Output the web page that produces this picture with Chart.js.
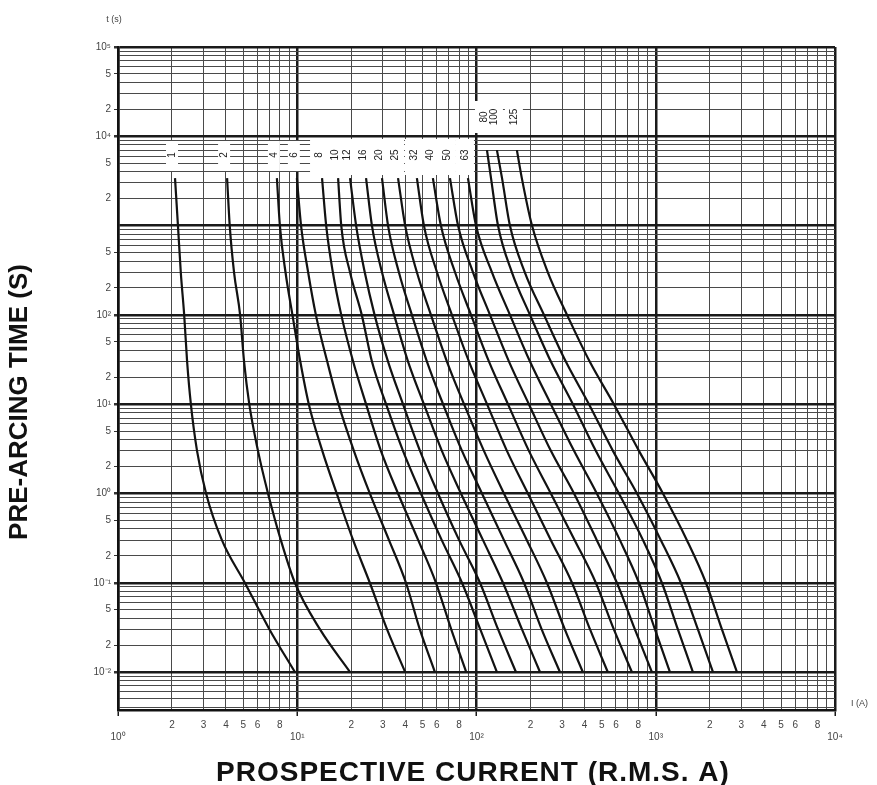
<!DOCTYPE html>
<html><head><meta charset="utf-8">
<script src="https://cdn.jsdelivr.net/npm/chart.js@4.4.1/dist/chart.umd.min.js"></script>
<style>html,body{margin:0;padding:0;background:#fff;}canvas{display:block}</style>
</head><body>
<canvas id="c" width="877" height="785"></canvas>
<script>
// ---- data ----
const ratings = ['1','2','4','6','8','10','12','16','20','25','32','40','50','63','80','100','125'];
// pre-arcing times (s) at which the currents below were read
const timesLow  = [3400, 1000, 300, 100, 30, 10, 3, 1, 0.3, 0.1, 0.03, 0.01];
const timesHigh = [7000, 3400, 1000, 300, 100, 30, 10, 3, 1, 0.3, 0.1, 0.03, 0.01];
// prospective current (A) for each fuse rating
const cur1   = [2.08, 2.16, 2.24, 2.34, 2.43, 2.55, 2.76, 3.1, 3.8, 5.1, 7.0, 9.7];
const cur2   = [4.06, 4.2, 4.44, 4.8, 5.05, 5.4, 6.04, 6.87, 8.1, 9.7, 13.4, 19.7];
const cur4   = [7.7, 8.0, 8.6, 9.4, 10.4, 11.6, 13.8, 16.6, 20.5, 25.4, 31.7, 40];
const cur6   = [9.95, 10.5, 11.5, 12.7, 14.7, 17.0, 20.7, 25.4, 32.5, 40.4, 48.3, 58.6];
const cur8   = [13.75, 14.5, 15.8, 17.6, 20.5, 24.2, 29.3, 36.5, 47.3, 59.4, 72.3, 87.6];
const cur10  = [16.9, 17.6, 19.7, 22.9, 26.1, 31.3, 38.9, 49, 64, 83, 105, 130];
const cur12  = [19.7, 21.3, 23.8, 27, 32.1, 38.9, 48.4, 61, 80, 104.6, 132, 166];
const cur16  = [24.2, 26.1, 29.7, 34.7, 41.5, 50.9, 64.1, 81.9, 108.7, 140.5, 179.4, 226];
const cur20  = [29.7, 32.1, 36.9, 43.6, 52.9, 65.1, 83, 107.3, 142.3, 184, 231, 292];
const cur25  = [36.5, 40, 46.5, 55.7, 68.4, 85.2, 110, 142.3, 191, 247, 311, 392];
const cur32  = [46.5, 50.9, 60.2, 72.9, 90.8, 114.5, 147.8, 193.6, 260, 341, 430, 540];
const cur40  = [57.1, 63.3, 75.9, 93.2, 117.4, 149.8, 196, 260, 353, 463, 584, 736];
const cur50  = [71.1, 78.9, 95.6, 118.9, 151.8, 196, 260, 350, 469, 607, 765, 952];
const cur63  = [89.6, 99.4, 122, 153.7, 198.8, 260, 350, 469, 631, 806, 990, 1200];
const cur80  = [114.4, 120.5, 131.8, 157.6, 198.8, 260, 345, 463, 623, 849, 1082, 1329, 1612];
const cur100 = [130, 138.8, 153.6, 186, 238, 315, 424, 577, 786, 1068, 1381, 1719, 2086];
const cur125 = [168, 179, 204, 250, 320, 428, 584, 806, 1097, 1492, 1905, 2340, 2838];
const currents = [cur1,cur2,cur4,cur6,cur8,cur10,cur12,cur16,cur20,cur25,cur32,cur40,cur50,cur63,cur80,cur100,cur125];

// ---- axis ticks ----
const mantissas = [1,2,3,4,5,6,7,8,9];
const xDecadeExps = [0,1,2,3,4];
const yDecadeExps = [-3,-2,-1,0,1,2,3,4,5];
const xLabelMantissas = [2,3,4,5,6,8];
const yLabelMantissas = [2,5];
const xDecadeLabels = {'0':'10⁰','1':'10¹','2':'10²','3':'10³','4':'10⁴'};
const yDecadeLabels = {'-2':'10⁻²','-1':'10⁻¹','0':'10⁰','1':'10¹','2':'10²','4':'10⁴','5':'10⁵'};
const xMin = 1, xMax = 10000, yMin = 0.003758, yMax = 100000;

function expOf(v){ return Math.floor(Math.log10(v) + 1e-9); }
function mantOf(v){ return Math.round(v / Math.pow(10, expOf(v))); }
function isDecade(v){ return mantOf(v) === 1; }
function buildTicks(exps, lo, hi){
  const out = [];
  exps.forEach(e => mantissas.forEach(m => {
    const v = m * Math.pow(10, e);
    if (v >= lo * 0.999 && v <= hi * 1.001) out.push(v);
  }));
  return out;
}
const xTickVals = buildTicks(xDecadeExps, xMin, xMax);
const yTickVals = buildTicks(yDecadeExps, yMin, yMax);

const datasets = ratings.map((r, i) => {
  const cur = currents[i];
  const times = cur.length === timesHigh.length ? timesHigh : timesLow;
  return {
    label: r,
    data: cur.map((c, k) => ({x: c, y: times[k]})),
    borderColor: '#121212',
    borderWidth: 2.2,
    pointRadius: 0,
    fill: false,
    cubicInterpolationMode: 'monotone'
  };
});

const FONT = 'Liberation Sans, Arial, sans-serif';

const curveLabels = {
  id: 'curveLabels',
  beforeDatasetsDraw(chart){
    const ctx = chart.ctx;
    const items = chart.data.datasets.map((ds, i) => {
      const p = chart.getDatasetMeta(i).data[0];
      const upper = ds.data.length === timesHigh.length;
      return {text: ds.label, x: p.x - 3, y: upper ? 117 : 155, upper};
    });
    ctx.save();
    ctx.fillStyle = '#fff';
    items.forEach(it => {
      if (it.upper) ctx.fillRect(it.x - 9, 101, 18, 32);
      else if (it.x > 310) ctx.fillRect(it.x - 9, 139, 18, 36);
      else ctx.fillRect(it.x - 6, 141, 12, 30);
    });
    ctx.fillStyle = '#222';
    ctx.font = '10px ' + FONT;
    ctx.textAlign = 'center';
    ctx.textBaseline = 'middle';
    items.forEach(it => {
      ctx.save();
      ctx.translate(it.x, it.y);
      ctx.rotate(-Math.PI / 2);
      ctx.fillText(it.text, 0, 0);
      ctx.restore();
    });
    ctx.restore();
  }
};

const titles = {
  id: 'titles',
  afterDraw(chart){
    const ctx = chart.ctx;
    ctx.save();
    ctx.fillStyle = '#111';
    ctx.textAlign = 'center';
    ctx.textBaseline = 'middle';
    ctx.font = 'bold 28px ' + FONT;
    ctx.letterSpacing = '1px';
    ctx.fillText('PROSPECTIVE CURRENT (R.M.S. A)', 473, 773);
    ctx.letterSpacing = '0px';
    ctx.save();
    ctx.translate(20, 402);
    ctx.rotate(-Math.PI / 2);
    ctx.font = 'bold 26px ' + FONT;
    ctx.fillText('PRE-ARCING TIME (S)', 0, 0);
    ctx.restore();
    ctx.fillStyle = '#444';
    ctx.font = '9px ' + FONT;
    ctx.fillText('t (s)', 114, 20);
    ctx.textAlign = 'left';
    ctx.fillText('I (A)', 851, 704);
    ctx.restore();
  }
};

new Chart(document.getElementById('c'), {
  type: 'line',
  data: {datasets},
  options: {
    responsive: false,
    animation: false,
    layout: {padding: {top: 47, right: 42, left: 0, bottom: 0}},
    plugins: {legend: {display: false}, tooltip: {enabled: false}},
    scales: {
      x: {
        type: 'logarithmic', min: xMin, max: xMax,
        afterBuildTicks: s => { s.ticks = xTickVals.map(v => ({value: v})); },
        afterFit: s => { s.height = 75; },
        border: {display: true, color: '#111', width: 2.5},
        grid: {
          color: c => isDecade(c.tick.value) ? '#1a1a1a' : '#4a4a4a',
          lineWidth: c => isDecade(c.tick.value) ? 2.5 : 1,
          drawTicks: true, tickLength: 6,
          tickColor: c => isDecade(c.tick.value) ? '#1a1a1a' : 'rgba(0,0,0,0)',
          tickWidth: 1.5
        },
        ticks: {
          autoSkip: false, maxRotation: 0, minRotation: 0, padding: 3,
          color: '#444', font: {family: FONT, size: 10},
          callback: v => {
            const m = mantOf(v), e = expOf(v);
            if (m === 1) return ['', xDecadeLabels[String(e)] || ''];
            return xLabelMantissas.includes(m) ? String(m) : '';
          }
        }
      },
      y: {
        type: 'logarithmic', min: yMin, max: yMax,
        afterBuildTicks: s => { s.ticks = yTickVals.map(v => ({value: v})); },
        afterFit: s => { s.width = 118; },
        border: {display: true, color: '#111', width: 2.5},
        grid: {
          color: c => isDecade(c.tick.value) ? '#1a1a1a' : '#4a4a4a',
          lineWidth: c => isDecade(c.tick.value) ? 2.5 : 1,
          drawTicks: true, tickLength: 4,
          tickColor: c => {
            const m = mantOf(c.tick.value), e = expOf(c.tick.value);
            return (e >= -2 && e !== 3 && (m === 1 || yLabelMantissas.includes(m))) ? '#333' : 'rgba(0,0,0,0)';
          }
        },
        ticks: {
          autoSkip: false, padding: 3,
          color: '#444', font: {family: FONT, size: 10},
          callback: v => {
            const m = mantOf(v), e = expOf(v);
            if (e < -2) return '';
            if (m === 1) return yDecadeLabels[String(e)] || '';
            return yLabelMantissas.includes(m) ? String(m) : '';
          }
        }
      }
    }
  },
  plugins: [curveLabels, titles]
});
</script>
</body></html>
